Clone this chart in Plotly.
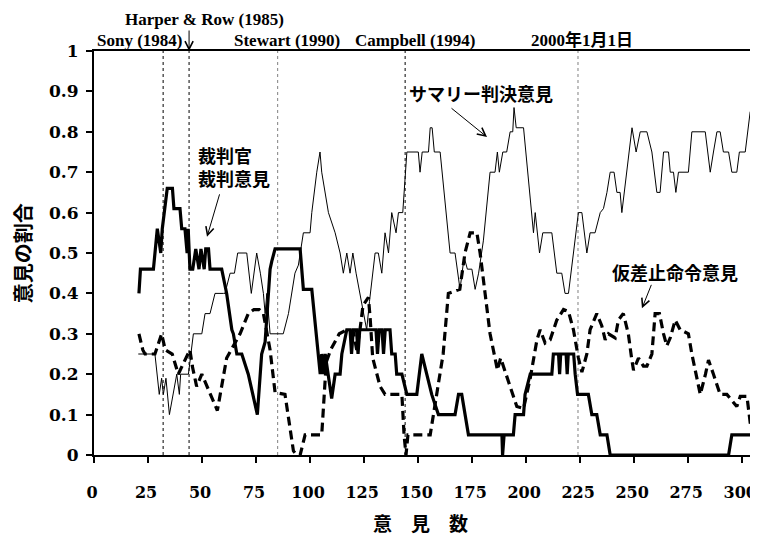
import plotly.graph_objects as go

# ---------------- data ----------------
summary_x = [20.5, 28.2, 30.2, 31.3, 32.1, 33.3, 34.9, 36.5, 38.3, 39.5, 40.1, 43.7, 46.0, 49.9, 51.4, 53.7,
             56.0, 59.9, 60.6, 63.0, 65.0, 66.5, 70.7, 72.8, 75.3, 77.0, 78.4, 79.2, 80.0, 81.5, 87.6, 90.0,
             93.0, 94.6, 96.9, 100.0, 100.8, 103.1, 104.6, 105.4, 107.0, 108.5, 111.6, 113.9, 115.4, 117.0,
             118.5, 119.8, 121.3, 123.1, 126.2, 127.5, 130.1, 131.6, 133.2, 134.7, 136.3, 137.8, 139.8, 140.9,
             142.9, 144.8, 150.1, 150.9, 151.9, 154.8, 155.6, 156.5, 157.5, 160.2, 164.8, 167.1, 169.4, 171.3,
             172.8, 174.9, 176.4, 178.0, 180.2, 183.3, 185.6, 186.7, 187.6, 189.2, 191.0, 192.6, 193.8, 194.4,
             195.4, 198.8, 203.4, 204.2, 206.2, 207.7, 211.9, 214.2, 216.5, 218.0, 219.6, 224.2, 225.8, 228.1,
             229.6, 231.9, 234.3, 235.8, 237.4, 238.9, 240.7, 242.0, 243.5, 244.3, 246.6, 249.0, 250.9, 252.8,
             255.9, 258.2, 260.5, 262.0, 263.6, 265.9, 266.7, 268.2, 269.3, 270.5, 275.1, 276.7, 282.9, 285.2,
             286.7, 288.3, 289.8, 291.3, 293.7, 295.2, 297.5, 298.7, 301.4, 303.7]
summary_y = [0.25, 0.25, 0.15, 0.19, 0.15, 0.19, 0.10, 0.15, 0.20, 0.15, 0.20, 0.20, 0.30, 0.30, 0.35, 0.35,
             0.40, 0.40, 0.40, 0.45, 0.45, 0.50, 0.50, 0.40, 0.50, 0.45, 0.40, 0.35, 0.40, 0.30, 0.30, 0.35,
             0.45, 0.47, 0.55, 0.55, 0.60, 0.70, 0.75, 0.70, 0.65, 0.60, 0.55, 0.50, 0.45, 0.50,
             0.45, 0.50, 0.45, 0.40, 0.31, 0.38, 0.50, 0.50, 0.45, 0.55, 0.50, 0.60, 0.55, 0.60,
             0.60, 0.75, 0.75, 0.70, 0.75, 0.75, 0.81, 0.81, 0.75, 0.75, 0.50, 0.50, 0.41, 0.49,
             0.46, 0.46, 0.41, 0.45, 0.53, 0.70, 0.70, 0.75, 0.70, 0.75, 0.75, 0.80, 0.80, 0.86,
             0.81, 0.81, 0.55, 0.60, 0.50, 0.55, 0.55, 0.45, 0.45, 0.40, 0.40, 0.60, 0.60, 0.50,
             0.55, 0.55, 0.60, 0.61, 0.65, 0.70, 0.70, 0.65, 0.65, 0.60, 0.70, 0.81, 0.75, 0.80,
             0.80, 0.75, 0.65, 0.65, 0.75, 0.75, 0.70, 0.70, 0.65, 0.70, 0.70, 0.80, 0.80, 0.70,
             0.75, 0.80, 0.80, 0.75, 0.75, 0.70, 0.70, 0.75, 0.75, 0.85]

judge_x = [20.8, 21.5, 27.5, 29.3, 30.9, 31.6, 33.9, 36.3, 37.0, 39.8, 40.6, 42.1, 43.1, 43.6, 44.4, 45.7,
           47.1, 48.6, 49.5, 51.0, 51.7, 53.0, 53.7, 59.1, 61.4, 63.8, 64.5, 66.1, 68.4, 71.4, 75.6, 77.6,
           79.2, 81.5, 82.3, 83.8, 95.4, 96.9, 100.8, 103.9, 104.7, 105.4, 106.2, 107.0, 108.5, 110.0, 111.6,
           113.9, 114.7, 117.0, 118.5, 119.2, 120.0, 121.5, 122.2, 123.0, 130.5, 131.2, 132.0, 133.3, 134.0,
           134.8, 137.0, 137.8, 139.4, 140.1, 142.5, 144.8, 149.4, 151.7, 154.0, 156.3, 159.4, 167.1, 168.7,
           170.2, 173.3, 188.8, 189.1, 189.8, 194.1, 194.9, 198.8, 199.5, 201.9, 211.9, 212.6, 215.0, 215.5,
           216.0, 218.5, 219.0, 219.5, 222.0, 222.7, 223.8, 228.8, 230.4, 232.7, 234.3, 237.4, 238.9, 293.7,
           295.2, 304.0]
judge_y = [0.40, 0.46, 0.46, 0.56, 0.50, 0.56, 0.66, 0.66, 0.61, 0.61, 0.56, 0.56, 0.50, 0.56, 0.46, 0.46,
           0.51, 0.46, 0.51, 0.46, 0.51, 0.51, 0.46, 0.46, 0.40, 0.31, 0.30, 0.25, 0.25, 0.20, 0.10, 0.25,
           0.28, 0.46, 0.48, 0.51, 0.51, 0.41, 0.41, 0.25, 0.20, 0.25, 0.20, 0.25, 0.19, 0.14, 0.20,
           0.20, 0.25, 0.31, 0.31, 0.25, 0.31, 0.31, 0.25, 0.31, 0.31, 0.25, 0.31, 0.31, 0.25,
           0.31, 0.31, 0.25, 0.25, 0.20, 0.20, 0.15, 0.15, 0.25, 0.20, 0.15, 0.10, 0.10, 0.15,
           0.15, 0.05, 0.05, 0.00, 0.05, 0.05, 0.10, 0.10, 0.15, 0.20, 0.20, 0.25, 0.25, 0.20,
           0.25, 0.25, 0.20, 0.25, 0.25, 0.20, 0.15, 0.15, 0.10, 0.10, 0.05, 0.05, 0.00, 0.00,
           0.05, 0.05]

injunction_x = [20.8, 22.6, 23.6, 28.2, 31.3, 33.0, 36.2, 39.0, 42.1, 44.4, 45.5, 47.5, 49.9, 53.7, 57.1,
                61.4, 64.5, 67.6, 71.4, 74.0, 76.5, 78.4, 81.5, 83.8, 88.4, 90.7, 92.3, 93.8, 95.4, 97.7,
                105.4, 107.5, 109.5, 113.5, 117.0, 120.0, 121.6, 123.1, 124.5, 127.0, 127.8, 129.0, 132.4,
                134.7, 142.5, 143.5, 144.4, 145.3, 155.6, 158.6, 161.6, 164.0, 169.3, 171.7, 174.1, 177.2,
                178.7, 181.0, 183.3, 185.6, 186.7, 188.2, 191.3, 195.7, 198.8, 201.9, 205.0, 206.5, 208.8,
                211.1, 214.2, 217.3, 219.6, 221.9, 224.2, 225.8, 228.1, 229.6, 232.7, 235.0, 236.6, 238.1,
                241.2, 242.7, 245.0, 247.3, 248.8, 249.7, 252.0, 254.3, 255.9, 258.2, 259.7, 261.7, 263.6,
                265.1, 266.7, 269.0, 271.3, 275.1, 276.7, 279.0, 280.6, 283.0, 284.4, 286.7, 289.8, 292.9,
                295.2, 297.5, 299.1, 302.2, 303.7, 304.6]
injunction_y = [0.30, 0.26, 0.25, 0.25, 0.30, 0.26, 0.25, 0.20, 0.235, 0.26, 0.22, 0.17, 0.20, 0.15, 0.11,
                0.24, 0.27, 0.30, 0.35, 0.36, 0.36, 0.35, 0.26, 0.155, 0.15, 0.06, 0.01, 0.00, 0.00, 0.05,
                0.05, 0.23, 0.26, 0.30, 0.31, 0.305, 0.26, 0.31, 0.37, 0.39, 0.34, 0.24, 0.17,
                0.15, 0.15, 0.05, 0.00, 0.05, 0.05, 0.15, 0.25, 0.40, 0.41, 0.50, 0.55, 0.55,
                0.50, 0.40, 0.30, 0.24, 0.21, 0.24, 0.19, 0.12, 0.115, 0.19, 0.285, 0.31, 0.277,
                0.285, 0.334, 0.36, 0.355, 0.31, 0.24, 0.205, 0.25, 0.31, 0.35, 0.32, 0.285, 0.30,
                0.29, 0.334, 0.35, 0.30, 0.24, 0.21, 0.24, 0.22, 0.22, 0.25, 0.35, 0.35, 0.30,
                0.27, 0.29, 0.334, 0.31, 0.30, 0.25, 0.19, 0.15, 0.20, 0.235, 0.20, 0.15, 0.15,
                0.135, 0.12, 0.145, 0.145, 0.08, 0.06]

event_x = [32, 44, 85, 144, 224]
event_colors = ["#000000", "#000000", "#808080", "#000000", "#808080"]
event_labels = ["Sony (1984)", "Harper & Row (1985)", "Stewart (1990)", "Campbell (1994)", "2000年1月1日"]
event_label_x = [0.5, 13.4, 63.9, 119.9, 201.4]
event_label_y = [1.027, 1.079, 1.027, 1.027, 1.027]

x_ticks = [0, 25, 50, 75, 100, 125, 150, 175, 200, 225, 250, 275, 300]
y_ticks = [0, 0.1, 0.2, 0.3, 0.4, 0.5, 0.6, 0.7, 0.8, 0.9, 1.0]
y_tick_text = ["0", "0.1", "0.2", "0.3", "0.4", "0.5", "0.6", "0.7", "0.8", "0.9", "1"]

# ---------------- figure ----------------
JP = "Noto Sans CJK JP"
SERIF = "Liberation Serif, Noto Sans CJK JP"
NUM = "DejaVu Serif"

fig = go.Figure()
fig.add_trace(go.Scatter(x=summary_x, y=summary_y, mode="lines",
                         line=dict(color="black", width=1), name="サマリー判決意見"))
fig.add_trace(go.Scatter(x=injunction_x, y=injunction_y, mode="lines",
                         line=dict(color="black", width=3.2, dash="9px,5px"), name="仮差止命令意見"))
fig.add_trace(go.Scatter(x=judge_x, y=judge_y, mode="lines",
                         line=dict(color="black", width=3.2), name="裁判官裁判意見"))

for ex, ec in zip(event_x, event_colors):
    fig.add_shape(type="line", xref="x", yref="paper", x0=ex, x1=ex, y0=0, y1=1,
                  line=dict(color=ec, width=1, dash="3px,3px"), layer="below")

for lbl, lx, ly in zip(event_labels, event_label_x, event_label_y):
    fig.add_annotation(x=lx, y=ly, xref="x", yref="paper", text=lbl, showarrow=False,
                       xanchor="left", yanchor="middle",
                       font=dict(family=SERIF, size=17, color="black", weight="bold"))

# Harper & Row arrow
fig.add_annotation(x=event_x[1], y=1.0, xref="x", yref="paper", text="", showarrow=True,
                   ax=0, ay=-22, arrowhead=5, arrowsize=1.6, arrowwidth=1, arrowcolor="black")

# series labels with arrows
fig.add_annotation(x=179, y=0.895, xref="x", yref="y", text="サマリー判決意見", showarrow=False,
                   xanchor="center", yanchor="middle",
                   font=dict(family=JP, size=18, color="black", weight="bold"))
fig.add_annotation(x=181.9, y=0.787, xref="x", yref="y", text="", showarrow=True,
                   ax=-37, ay=-30, arrowhead=5, arrowsize=1.6, arrowwidth=1, arrowcolor="black")

fig.add_annotation(x=47.2, y=0.715, xref="x", yref="y", text="裁判官<br>裁判意見", showarrow=False,
                   xanchor="left", yanchor="middle", align="left",
                   font=dict(family=JP, size=18, color="black", weight="bold"))
fig.add_annotation(x=52.3, y=0.54, xref="x", yref="y", text="", showarrow=True,
                   ax=13, ay=-44, arrowhead=5, arrowsize=1.6, arrowwidth=1, arrowcolor="black")

fig.add_annotation(x=238.9, y=0.454, xref="x", yref="y", text="仮差止命令意見", showarrow=False,
                   xanchor="left", yanchor="middle",
                   font=dict(family=JP, size=18, color="black", weight="bold"))
fig.add_annotation(x=253.6, y=0.363, xref="x", yref="y", text="", showarrow=True,
                   ax=10, ay=-25, arrowhead=5, arrowsize=1.6, arrowwidth=1, arrowcolor="black")

# axis titles
fig.add_annotation(x=-0.109, y=0.5, xref="paper", yref="paper", text="意見の割合", textangle=-90,
                   xanchor="center", yanchor="middle",
                   showarrow=False, font=dict(family=JP, size=20, color="black", weight="bold"))
fig.add_annotation(x=0.495, y=-0.166, xref="paper", yref="paper", text="意　見　数",
                   xanchor="center", yanchor="middle",
                   showarrow=False, font=dict(family=JP, size=19, color="black", weight="bold"))

# page body has an 8px margin, so the figure is 8px smaller to end at the window edge
fig.update_layout(
    width=750, height=529,
    margin=dict(l=86, r=5, t=43, b=82, autoexpand=False),
    paper_bgcolor="white", plot_bgcolor="white",
    showlegend=False,
    xaxis=dict(range=[0, 305], tickvals=x_ticks, showgrid=False, zeroline=False, automargin=False,
               showline=True, linecolor="black", linewidth=2, mirror=True,
               ticks="outside", ticklen=6, tickwidth=2, tickcolor="black",
               ticklabelstandoff=16, ticklabeloverflow="allow", ticklabelshift=-2,
               tickfont=dict(family=NUM, size=16, color="black", weight="bold")),
    yaxis=dict(range=[0, 1], tickvals=y_ticks, ticktext=y_tick_text, showgrid=False, zeroline=False,
               automargin=False,
               showline=True, linecolor="black", linewidth=2, mirror=True,
               ticks="outside", ticklen=6, tickwidth=2, tickcolor="black",
               ticklabelstandoff=4, ticklabeloverflow="allow",
               tickfont=dict(family=NUM, size=17, color="black", weight="bold")),
)

fig.write_html("out.html")
